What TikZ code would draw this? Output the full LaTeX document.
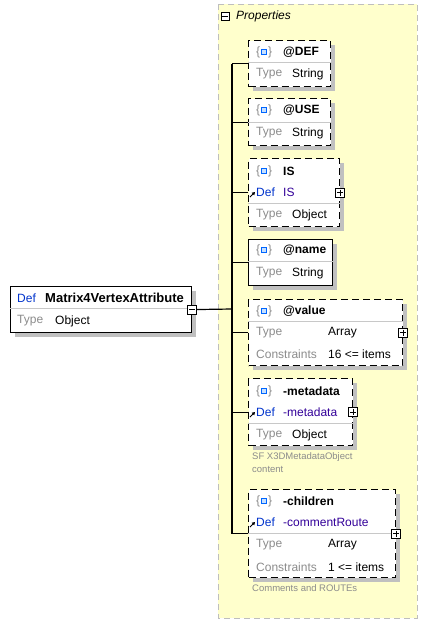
\documentclass[tikz,border=0pt]{standalone}
\usepackage{fontspec}
\setmainfont{Liberation Sans}
\usetikzlibrary{arrows.meta, positioning, calc, shadows}
\definecolor{propfill}{RGB}{255,255,204}
\definecolor{propedge}{RGB}{190,190,190}
\definecolor{shade}{RGB}{192,192,192}
\definecolor{defblue}{RGB}{0,51,204}
\definecolor{refblue}{RGB}{51,0,153}
\definecolor{lbl}{RGB}{140,140,140}
\definecolor{sepgray}{RGB}{200,200,200}
\definecolor{iconblue}{RGB}{0,102,255}
\definecolor{iconfill}{RGB}{200,225,255}

\tikzset{
  elem/.style={draw, line width=1.2pt, fill=white, anchor=north west, inner sep=0pt,
    drop shadow={shadow xshift=4pt, shadow yshift=-4pt, fill=shade, opacity=1}},
  optelem/.style={elem, dash pattern=on 7pt off 4pt},
  txt/.style={anchor=west, inner sep=0pt, font=\fontsize{12}{14}\selectfont},
  head/.style={txt, font=\fontsize{12}{14}\selectfont\bfseries},
  lab/.style={txt, text=lbl},
  deflab/.style={txt, text=defblue},
  reftxt/.style={txt, text=refblue},
  note/.style={anchor=west, inner sep=0pt, text=lbl, font=\fontsize{9.5}{11}\selectfont},
  expander/.style={draw, fill=white, line width=0.8pt, minimum size=9pt, inner sep=0pt},
  sep/.style={sepgray, line width=1pt},
  conn/.style={line width=1.2pt}
}

% attribute icon {o}
\newcommand{\attricon}[2]{%
  \node[txt, text=lbl] at (#1,#2) {\{};
  \node[txt, text=lbl] at (#1+12,#2) {\}};
  \draw[iconblue, fill=iconfill, line width=1pt] (#1+5,#2-2.5) rectangle (#1+10,#2+2.5);
}
% reference arrow
\newcommand{\refmark}[2]{%
  \draw[line width=1pt, -{Triangle[length=3pt,width=3.5pt]}] (#1,#2) -- (#1+5,#2-5);
}

\begin{document}
\begin{tikzpicture}[x=1pt, y=-1pt]
  \useasboundingbox (0,0) rectangle (429,630);

  % properties group
  \draw[propedge, fill=propfill, line width=1pt, dash pattern=on 6pt off 4pt] (218,4) rectangle (417,618);
  \node[draw, line width=0.8pt, fill=white, minimum size=8pt, inner sep=0pt] (grp) at (225,16) {};
  \draw[line width=0.8pt] ($(grp.west)+(1.5,0)$) -- ($(grp.east)+(-1.5,0)$);
  \node[txt, font=\fontsize{12}{14}\selectfont\itshape] (grptitle) at (236,16) {Properties};

  % main element
  \node[elem, minimum width=181pt, minimum height=46pt] (main) at (10,286) {};
  \draw[sep] (10,308) -- (191,308);
  \node[deflab] at (17,298) {Def};
  \node[head, font=\fontsize{13}{15}\selectfont\bfseries] at (45,298) {Matrix4VertexAttribute};
  \node[lab] at (17,321) {Type};
  \node[txt] at (55,321) {Object};

  % child elements
  \node[optelem, minimum width=82pt, minimum height=46pt] (def) at (248,40) {};
  \node[optelem, minimum width=82pt, minimum height=47pt] (use) at (248,98) {};
  \node[optelem, minimum width=91pt, minimum height=68pt] (is) at (248,158) {};
  \node[elem, minimum width=84pt, minimum height=46pt] (name) at (248,239) {};
  \node[optelem, minimum width=154pt, minimum height=66pt] (value) at (248,299) {};
  \node[optelem, minimum width=104pt, minimum height=67pt] (meta) at (248,378) {};
  \node[optelem, minimum width=147pt, minimum height=88pt] (children) at (248,489) {};

  % separators
  \foreach \b/\y in {def/62, use/122, is/203, name/261, value/321, meta/423, children/533}
    \draw[sep] (\b.west |- 0,\y) -- (\b.east |- 0,\y);

  % headers
  \foreach \y/\t in {52/@DEF, 110/@USE, 171/IS, 250/@name, 311/@value, 391/-metadata, 501/-children} {
    \attricon{256}{\y}
    \node[head] at (283,\y) {\t};
  }

  % rows
  \foreach \y/\t in {74/String, 133/String, 215/Object, 273/String, 435/Object} {
    \node[lab] at (256,\y) {Type};
    \node[txt] at (292,\y) {\t};
  }
  \node[lab] at (256,333) {Type};
  \node[txt] at (328,333) {Array};
  \node[lab] at (256,354) {Constraints};
  \node[txt] at (328,354) {16 <= items};
  \node[lab] at (256,545) {Type};
  \node[txt] at (328,545) {Array};
  \node[lab] at (256,567) {Constraints};
  \node[txt] at (328,567) {1 <= items};

  % references
  \foreach \y/\t in {192/IS, 412/-metadata, 522/-commentRoute} {
    \node[deflab] at (256,\y) {Def};
    \node[reftxt] at (283,\y) {\t};
    \refmark{250}{\y+5}
  }

  % notes
  \node[note] (metanote) at (252,457) {SF X3DMetadataObject};
  \node[note] at (252,469) {content};
  \node[note] (childnote) at (252,588) {Comments and ROUTEs};

  % connectors
  \coordinate (trunk) at (232,309);
  \draw[conn] (main.east) -- (trunk);
  \draw[conn] (trunk |- def.west) -- (trunk |- children.west);
  \foreach \b in {def, use, is, name, value, meta, children}
    \draw[conn] (trunk |- \b.west) -- (\b.west);

  % expanders
  \node[expander] (mainx) at (main.east) {};
  \draw[line width=0.8pt] ($(mainx.west)+(2,0)$) -- ($(mainx.east)+(-2,0)$);
  \foreach \b in {is, value, meta, children} {
    \node[expander] (\b x) at (\b.east) {};
    \draw[line width=0.8pt] ($(\b x.west)+(2,0)$) -- ($(\b x.east)+(-2,0)$);
    \draw[line width=0.8pt] ($(\b x.north)+(0,2)$) -- ($(\b x.south)+(0,-2)$);
  }
\end{tikzpicture}
\end{document}
